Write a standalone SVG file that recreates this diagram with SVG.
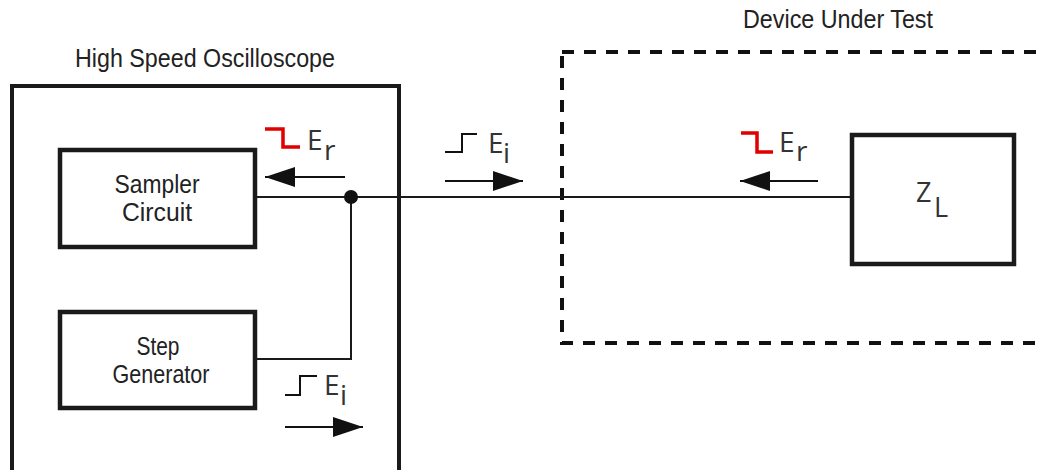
<svg xmlns="http://www.w3.org/2000/svg" width="1045" height="470" viewBox="0 0 1045 470">
<style>
.box{fill:#fff;stroke:#1a1a1a;stroke-width:4.5}
.lbl{font-family:"Liberation Sans",Arial,sans-serif;fill:#222;text-anchor:middle}
.sym{font-family:"Open Sans","Liberation Sans",sans-serif;fill:#333}
.wire{stroke:#1a1a1a;stroke-width:2;fill:none}
.arr{stroke:#111;stroke-width:2.2;fill:none}
.step{stroke:#111;stroke-width:2;fill:none}
.rstep{stroke:#e00000;stroke-width:3.5;fill:none}
</style>
<defs>
<marker id="ah" markerWidth="30" markerHeight="20" refX="30" refY="10" orient="auto" markerUnits="userSpaceOnUse">
<path d="M0,0 L30,10 L0,20 Z" fill="#111"/>
</marker>
</defs>
<rect width="1045" height="470" fill="#fff"/>

<g id="oscilloscope">
<rect x="12" y="86" width="387" height="420" fill="none" stroke="#1a1a1a" stroke-width="4"/>
<text class="lbl" x="205" y="67" font-size="26" textLength="260" lengthAdjust="spacingAndGlyphs">High Speed Oscilloscope</text>
</g>

<g id="dut">
<rect x="562" y="52" width="520" height="291" fill="none" stroke="#111" stroke-width="4" stroke-dasharray="12,10"/>
<text class="lbl" x="838" y="28" font-size="26" textLength="190" lengthAdjust="spacingAndGlyphs">Device Under Test</text>
</g>

<g id="connectors">
<path class="wire" d="M255,197 H852"/>
<path class="wire" d="M255,359 H351 V197"/>
<circle cx="351" cy="197" r="7" fill="#111"/>
<path class="arr" d="M345,177 H265" marker-end="url(#ah)"/>
<path class="arr" d="M445,181 H523" marker-end="url(#ah)"/>
<path class="arr" d="M818,181 H740" marker-end="url(#ah)"/>
<path class="arr" d="M285,427 H363" marker-end="url(#ah)"/>
</g>

<g id="sampler">
<rect class="box" x="60" y="150" width="195" height="97"/>
<text class="lbl" x="157" y="193" font-size="25" textLength="85" lengthAdjust="spacingAndGlyphs">Sampler</text>
<text class="lbl" x="157" y="221" font-size="25" textLength="70" lengthAdjust="spacingAndGlyphs">Circuit</text>
</g>

<g id="step-generator">
<rect class="box" x="60" y="312" width="195" height="96"/>
<text class="lbl" x="158" y="355" font-size="25" textLength="43" lengthAdjust="spacingAndGlyphs">Step</text>
<text class="lbl" x="161" y="383" font-size="25" textLength="97" lengthAdjust="spacingAndGlyphs">Generator</text>
</g>

<g id="load">
<rect class="box" x="852" y="135" width="162" height="129"/>
<text class="sym" x="916" y="202" font-size="27">Z</text>
<text class="sym" x="934" y="217" font-size="27">L</text>
</g>

<g id="er-scope">
<path class="rstep" d="M265,129 H283 V147 H300"/>
<text class="sym" x="307" y="150" font-size="28">E</text>
<text class="sym" x="324" y="160" font-size="28">r</text>
</g>

<g id="ei-line">
<path class="step" d="M445,152 H462 V134 H477"/>
<text class="sym" x="488" y="153" font-size="28">E</text>
<text class="sym" x="503" y="163" font-size="28">i</text>
</g>

<g id="er-dut">
<path class="rstep" d="M741,133 H757 V152 H773"/>
<text class="sym" x="779" y="152" font-size="28">E</text>
<text class="sym" x="796" y="161" font-size="28">r</text>
</g>

<g id="ei-scope">
<path class="step" d="M285,395 H300 V376 H317"/>
<text class="sym" x="324" y="395" font-size="28">E</text>
<text class="sym" x="340" y="405" font-size="28">i</text>
</g>
</svg>
